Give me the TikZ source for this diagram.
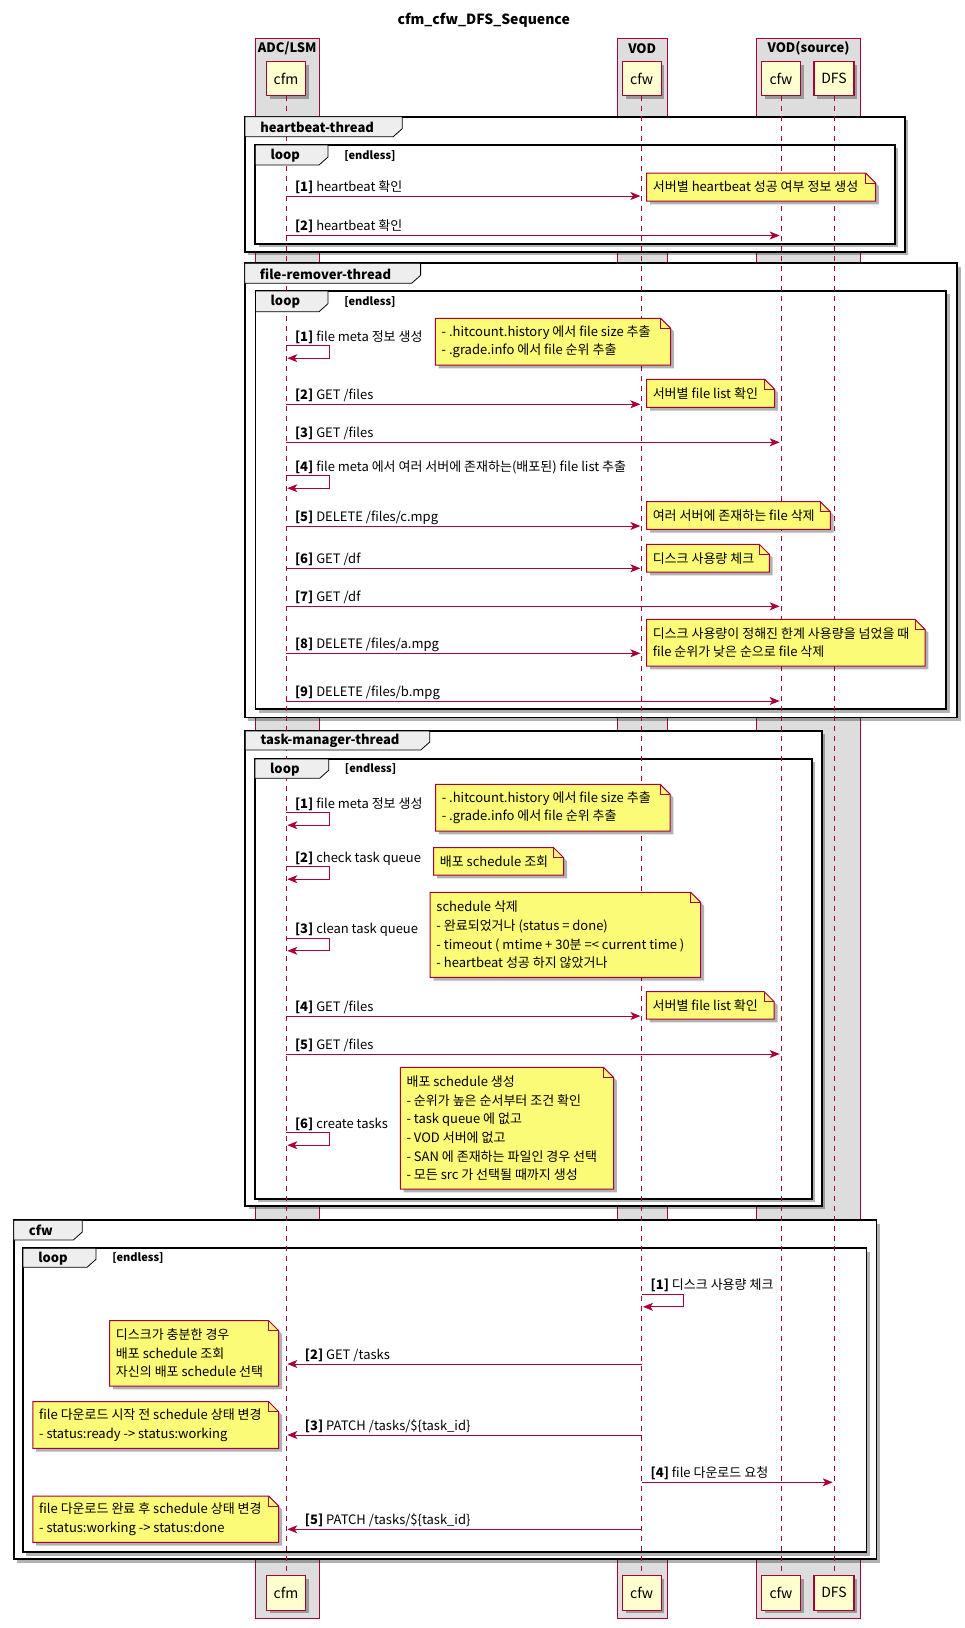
\documentclass[tikz,border=0pt]{standalone}
\usepackage{fontspec}
\setmainfont{Noto Sans CJK KR}
\usepackage{tikz}
\usetikzlibrary{arrows.meta, shadows, calc}

\definecolor{umlred}{HTML}{A80036}
\definecolor{partfill}{HTML}{FEFECE}
\definecolor{notefill}{HTML}{FBFB77}
\definecolor{grpfill}{HTML}{DDDDDD}
\definecolor{tabfill}{HTML}{EEEEEE}

\begin{document}
\begin{tikzpicture}[
    x=0.75pt, y=-0.75pt,
    every node/.style={font=\fontsize{9.75}{14}\selectfont, inner sep=0pt},
    umlshadow/.style={drop shadow={shadow xshift=2.5pt, shadow yshift=-2.5pt, fill=black, opacity=0.3}},
    partbox/.style={draw=umlred, fill=partfill, line width=0.8pt, minimum width=29pt,
        minimum height=26pt, font=\fontsize{10.5}{12}\selectfont, umlshadow},
    grpbox/.style={draw=umlred, fill=grpfill, line width=0.75pt},
    grplabel/.style={font=\bfseries\fontsize{9.75}{12}\selectfont},
    lifeline/.style={draw=umlred, line width=0.75pt, dash pattern=on 3.75pt off 3.75pt},
    outerframe/.style={draw=black, fill=white, line width=1.3pt, umlshadow},
    tabbox/.style={draw=black, fill=tabfill, line width=0.6pt},
    tablabel/.style={font=\bfseries\fontsize{9.75}{12}\selectfont, anchor=west},
    guard/.style={font=\bfseries\fontsize{8.25}{10}\selectfont, anchor=west},
    msg/.style={draw=umlred, line width=0.75pt, -{Stealth[length=7.5pt, width=6pt, inset=2pt]}, shorten >=1pt},
    lbl/.style={anchor=base west, xshift=6.4pt, yshift=3.4pt},
    lblback/.style={anchor=base west, xshift=13.8pt, yshift=3.4pt},
    notebg/.style={draw=umlred, fill=notefill, line width=0.75pt, umlshadow},
    notefold/.style={draw=umlred, line width=0.75pt},
    notetext/.style={align=left, anchor=west}
]
\useasboundingbox (0,0) rectangle (964,1628);

\node[font=\bfseries\fontsize{10.5}{12}\selectfont] (title) at (483.7,20.7) {cfm\_cfw\_DFS\_Sequence};

% participant groups
\draw[grpbox] (255.3,38.3) rectangle (319,1618.3);
\draw[grpbox] (617.5,38.3) rectangle (667,1618.3);
\draw[grpbox] (756.6,38.3) rectangle (860.5,1618.3);
\node[grplabel] (adc) at (287.2,48.3) {ADC/LSM};
\node[grplabel] (vod) at (642.2,48.3) {VOD};
\node[grplabel] (vodsrc) at (808.5,48.3) {VOD(source)};

% frames
\foreach \l/\t/\r/\b in {
    245/116.7/905/252, 244.7/263.3/957.3/717.6,
    245.3/731/821.8/1206, 13.7/1220.3/876.6/1559.3,
    255.3/145/895/244, 255.4/291/946.2/709.2,
    254.9/759/811.8/1199, 23/1248.3/866.6/1552.3}
    \draw[outerframe] (\l,\t) rectangle (\r,\b);

% participants
\node[partbox] (cfmT) at (286,78.5) {cfm};
\node[partbox] (vcfwT) at (641.7,78.5) {cfw};
\node[partbox] (scfwT) at (781,78.5) {cfw};
\node[partbox, minimum width=30pt] (dfsT) at (834,78.5) {DFS};
\node[partbox] (cfmB) at (286,1592.7) {cfm};
\node[partbox] (vcfwB) at (641.7,1592.7) {cfw};
\node[partbox] (scfwB) at (781,1592.7) {cfw};
\node[partbox, minimum width=30pt] (dfsB) at (834,1592.7) {DFS};

\foreach \p in {cfm, vcfw, scfw, dfs}
    \draw[lifeline] (\p T.south) -- (\p B.north);

% frame tabs
\foreach \l/\t/\tr/\tb/\lab in {
    245/116.7/402.2/136.7/heartbeat-thread,
    244.7/263.3/420.6/283.3/file-remover-thread,
    245.3/731/429.8/750/task-manager-thread,
    13.7/1220.3/82.3/1240/cfw}
{
    \draw[tabbox] (\l,\t) -- (\tr,\t) -- (\tr,\tb-8) -- (\tr-9,\tb) -- (\l,\tb) -- cycle;
    \node[tablabel] at (\l+15,{(\t+\tb)/2+0.5}) {\lab};
}
\foreach \l/\t/\tr/\tb in {
    255.3/145/328/165, 255.4/291/328/311.7,
    254.9/759/328.7/778.3, 23/1248.3/96/1267.3}
{
    \draw[tabbox] (\l,\t) -- (\tr,\t) -- (\tr,\tb-8) -- (\tr-9,\tb) -- (\l,\tb) -- cycle;
    \node[tablabel] at (\l+15,{(\t+\tb)/2+0.5}) {loop};
    \node[guard] at (\tr+16,{(\t+\tb)/2+0.5}) {[endless]};
}

% notes
\foreach \xa/\ya/\xb/\yb/\nm/\txt in {
    646.7/173/875.6/201/hb/{서버별 heartbeat 성공 여부 정보 생성},
    435.4/318.3/670.6/365/frmeta/{- .hitcount.history 에서 file size 추출\\- .grade.info 에서 file 순위 추출},
    646.5/379.3/774.6/407.3/frlist/{서버별 file list 확인},
    646.5/501.7/830.4/529.3/frdel/{여러 서버에 존재하는 file 삭제},
    646.5/544.3/769.3/572/frdf/{디스크 사용량 체크},
    646.5/619.3/925/666/frlimit/{디스크 사용량이 정해진 한계 사용량을 넘었을 때\\file 순위가 낮은 순으로 file 삭제},
    435.5/784.3/670.1/831/tmmeta/{- .hitcount.history 에서 file size 추출\\- .grade.info 에서 file 순위 추출},
    433.6/847.7/563.7/875/tmcheck/{배포 schedule 조회},
    430.2/892.3/700.7/977.3/tmclean/{schedule 삭제\\- 완료되었거나 (status = done)\\- timeout ( mtime + 30분 =< current time )\\- heartbeat 성공 하지 않았거나},
    646.4/991.7/774.2/1019/tmlist/{서버별 file list 확인},
    400.3/1067.3/613.5/1189/tmcreate/{배포 schedule 생성\\- 순위가 높은 순서부터 조건 확인\\- task queue 에 없고\\- VOD 서버에 없고\\- SAN 에 존재하는 파일인 경우 선택\\- 모든 src 가 선택될 때까지 생성},
    109.7/1320.7/278.7/1386/cwtasks/{디스크가 충분한 경우\\배포 schedule 조회\\자신의 배포 schedule 선택},
    32.9/1401.7/278.7/1448.3/cwstart/{file 다운로드 시작 전 schedule 상태 변경\\- status:ready -> status:working},
    32.9/1496/278.7/1542.3/cwdone/{file 다운로드 완료 후 schedule 상태 변경\\- status:working -> status:done}}
{
    \filldraw[notebg] (\xa,\ya) -- (\xb-10,\ya) -- (\xb,\ya+10) -- (\xb,\yb) -- (\xa,\yb) -- cycle;
    \draw[notefold] (\xb-10,\ya) |- (\xb,\ya+10);
    \node[notetext] (note\nm) at (\xa+6,{(\ya+\yb)/2}) {\txt};
}

% heartbeat-thread
\draw[msg] (cfmT |- 0,196) node[lbl] {\textbf{[1]} heartbeat 확인} -- (vcfwT |- 0,196);
\draw[msg] (cfmT |- 0,235.5) node[lbl] {\textbf{[2]} heartbeat 확인} -- (scfwT |- 0,235.5);

% file-remover-thread
\draw[msg] (cfmT |- 0,345.7) node[lbl] {\textbf{[1]} file meta 정보 생성} -- ++(43,0) -- ++(0,12.5) -- (cfmT |- 0,358.2);
\draw[msg] (cfmT |- 0,404.3) node[lbl] {\textbf{[2]} GET /files} -- (vcfwT |- 0,404.3);
\draw[msg] (cfmT |- 0,442.3) node[lbl] {\textbf{[3]} GET /files} -- (scfwT |- 0,442.3);
\draw[msg] (cfmT |- 0,475.7) node[lbl] {\textbf{[4]} file meta 에서 여러 서버에 존재하는(배포된) file list 추출} -- ++(43,0) -- ++(0,12.5) -- (cfmT |- 0,488.2);
\draw[msg] (cfmT |- 0,526) node[lbl] {\textbf{[5]} DELETE /files/c.mpg} -- (vcfwT |- 0,526);
\draw[msg] (cfmT |- 0,568.3) node[lbl] {\textbf{[6]} GET /df} -- (vcfwT |- 0,568.3);
\draw[msg] (cfmT |- 0,606.3) node[lbl] {\textbf{[7]} GET /df} -- (scfwT |- 0,606.3);
\draw[msg] (cfmT |- 0,653.3) node[lbl] {\textbf{[8]} DELETE /files/a.mpg} -- (vcfwT |- 0,653.3);
\draw[msg] (cfmT |- 0,701) node[lbl] {\textbf{[9]} DELETE /files/b.mpg} -- (scfwT |- 0,701);

% task-manager-thread
\draw[msg] (cfmT |- 0,812.7) node[lbl] {\textbf{[1]} file meta 정보 생성} -- ++(43,0) -- ++(0,12.5) -- (cfmT |- 0,825.2);
\draw[msg] (cfmT |- 0,866.7) node[lbl] {\textbf{[2]} check task queue} -- ++(43,0) -- ++(0,12.5) -- (cfmT |- 0,879.2);
\draw[msg] (cfmT |- 0,938.3) node[lbl] {\textbf{[3]} clean task queue} -- ++(43,0) -- ++(0,12.5) -- (cfmT |- 0,950.8);
\draw[msg] (cfmT |- 0,1016) node[lbl] {\textbf{[4]} GET /files} -- (vcfwT |- 0,1016);
\draw[msg] (cfmT |- 0,1054) node[lbl] {\textbf{[5]} GET /files} -- (scfwT |- 0,1054);
\draw[msg] (cfmT |- 0,1132.7) node[lbl] {\textbf{[6]} create tasks} -- ++(43,0) -- ++(0,12.5) -- (cfmT |- 0,1145.2);

% cfw
\draw[msg] (vcfwT |- 0,1294.3) node[lbl] {\textbf{[1]} 디스크 사용량 체크} -- ++(42,0) -- ++(0,12.5) -- (vcfwT |- 0,1306.8);
\draw[msg] (vcfwT |- 0,1364) -- (cfmT |- 0,1364) node[lblback] {\textbf{[2]} GET /tasks};
\draw[msg] (vcfwT |- 0,1435) -- (cfmT |- 0,1435) node[lblback] {\textbf{[3]} PATCH /tasks/\$\{task\_id\}};
\draw[msg] (vcfwT |- 0,1482.3) node[lbl] {\textbf{[4]} file 다운로드 요청} -- (dfsT |- 0,1482.3);
\draw[msg] (vcfwT |- 0,1529.3) -- (cfmT |- 0,1529.3) node[lblback] {\textbf{[5]} PATCH /tasks/\$\{task\_id\}};
\end{tikzpicture}
\end{document}
